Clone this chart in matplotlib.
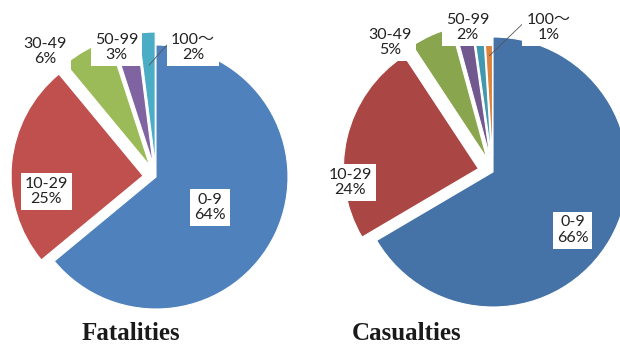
import numpy as np
import matplotlib.pyplot as plt

# --- data ---
fatal_values = [64, 25, 6, 3, 2]
fatal_labels = ["0-9\n64%", "10-29\n25%", "30-49\n6%", "50-99\n3%", "100～\n2%"]

# casualties has a thin unlabeled sliver between 50-99 and 100~
casual_values = [66, 24, 5, 2, 1.2, 1]
casual_labels = ["0-9\n66%", "10-29\n24%", "30-49\n5%", "50-99\n2%", "", "100～\n1%"]

titles = ["Fatalities", "Casualties"]

fatal_colors = ["#4F81BD", "#C0504D", "#9BBB59", "#8064A2", "#4BACC6"]
casual_colors = ["#4572A7", "#AA4643", "#89A54E", "#71588F", "#4198AF", "#DB843D"]

LABEL_FONT = ["Lato", "Noto Sans CJK JP"]


def draw_pie(ax, values, labels, colors, center, radius, expl, label_offsets,
             leader_idx, title, title_x):
    explode = [0] + [expl] * (len(values) - 1)
    wedges, _ = ax.pie(values, colors=colors, startangle=90, counterclock=False,
                       center=center, radius=radius, explode=explode,
                       wedgeprops=dict(edgecolor="white", linewidth=0.8))
    box = dict(boxstyle="square,pad=0.25", facecolor="white", edgecolor="none")
    for i, (w, lab) in enumerate(zip(wedges, labels)):
        if not lab:
            continue
        dx, dy = label_offsets[i]
        pos = (center[0] + dx * radius, center[1] + dy * radius)
        if i == leader_idx:
            th = np.deg2rad((w.theta1 + w.theta2) / 2)
            cx, cy = w.center
            xy = (cx + 0.75 * radius * np.cos(th), cy + 0.75 * radius * np.sin(th))
            ax.annotate(lab, xy=xy, xytext=pos, ha="center", va="center",
                        fontsize=11.5, family=LABEL_FONT, color="#222222",
                        linespacing=1.1, bbox=box,
                        arrowprops=dict(arrowstyle="-", color="#555555", lw=0.6,
                                        relpos=(0, 0.75), shrinkA=0, shrinkB=0))
        else:
            ax.text(pos[0], pos[1], lab, ha="center", va="center", fontsize=11.5,
                    family=LABEL_FONT, color="#222222", linespacing=1.1, bbox=box)
    ax.text(title_x, 7, title, ha="center", va="baseline", fontsize=18,
            family="Liberation Serif", fontweight="bold", color="#1a1a1a")


fig = plt.figure(figsize=(6.2, 3.47), dpi=100)
ax = fig.add_axes([0, 0, 1, 1])

fatal_offsets = [(0.41, -0.23), (-0.83, -0.11), (-0.84, 0.95), (-0.30, 0.98), (0.28, 0.98)]
casual_offsets = [(0.59, -0.43), (-1.06, -0.08), (-0.76, 0.96), (-0.19, 1.07), None, (0.41, 1.07)]

draw_pie(ax, fatal_values, fatal_labels, fatal_colors, (156, 170), 132, 13,
         fatal_offsets, 4, titles[0], 131)
draw_pie(ax, casual_values, casual_labels, casual_colors, (493, 175), 135, 15,
         casual_offsets, 5, titles[1], 407)

ax.set_xlim(0, 620)
ax.set_ylim(0, 347)
ax.set_aspect("equal")
ax.axis("off")

fig.savefig("out.png", dpi=100)
